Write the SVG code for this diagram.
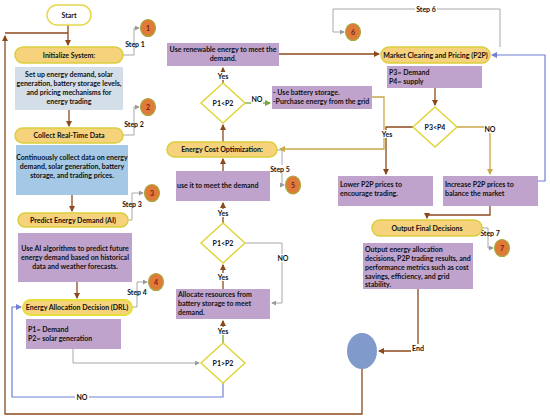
<svg xmlns="http://www.w3.org/2000/svg" width="550" height="420" viewBox="0 0 550 420">
<defs>
<marker id="ab" viewBox="0 0 6 6" refX="5" refY="3" markerWidth="5" markerHeight="5" orient="auto"><path d="M0,0 L6,3 L0,6 z" fill="#8c4a1c"/></marker>
<marker id="ag" viewBox="0 0 6 6" refX="5" refY="3" markerWidth="5" markerHeight="5" orient="auto"><path d="M0,0 L6,3 L0,6 z" fill="#9a9a9a"/></marker>
<marker id="al" viewBox="0 0 6 6" refX="5" refY="3" markerWidth="5" markerHeight="5" orient="auto"><path d="M0,0 L6,3 L0,6 z" fill="#6f80d6"/></marker>
<marker id="ao" viewBox="0 0 6 6" refX="5" refY="3" markerWidth="5" markerHeight="5" orient="auto"><path d="M0,0 L6,3 L0,6 z" fill="#c9a94a"/></marker>
<marker id="agr" viewBox="0 0 6 6" refX="5" refY="3" markerWidth="5" markerHeight="5" orient="auto"><path d="M0,0 L6,3 L0,6 z" fill="#78a840"/></marker>
</defs>
<style>
text{font-family:Lato,"DejaVu Sans Condensed",sans-serif;font-weight:bold;font-size:7px;fill:#111}
.c{text-anchor:middle}
.pill{fill:#f7d27c;stroke:#d9cf3c;stroke-width:1.5}
.purple{fill:#bfa3cc}
.grey{fill:#d3dee8}
.blue{fill:#a4c8e6}
.dia{fill:#fff;stroke:#e0d63a;stroke-width:1.5}
.num{fill:#e07a38;stroke:#a8aa40;stroke-width:1.2}
.numt{fill:#7a1a1a;font-size:7px;text-anchor:middle}
.lb{fill:none;stroke:#8c4a1c;stroke-width:1.3}
.lg{fill:none;stroke:#a8a8a8;stroke-width:1}
.ll{fill:none;stroke:#6f80d6;stroke-width:1.2}
.lo{fill:none;stroke:#c9a94a;stroke-width:1.3}
.lgr{fill:none;stroke:#78a840;stroke-width:1.3}
.bg{fill:#fff}
</style>
<rect width="550" height="420" fill="#fff"/>

<g id="connectors">
<path class="lb" d="M68,25 V45" marker-end="url(#ab)"/>
<path class="lb" d="M362,369 V414 H5 V36" marker-end="url(#ab)"/>
<path class="lb" d="M5,33 H68"/>
<path class="lb" d="M69,110 V126" marker-end="url(#ab)"/>
<path class="lb" d="M72,195 V211" marker-end="url(#ab)"/>
<path class="lb" d="M77,282 V298" marker-end="url(#ab)"/>
<path class="lg" d="M123,55 H134 V28 H139" marker-end="url(#ag)"/>
<path class="lg" d="M123,135 H134 V107 H139" marker-end="url(#ag)"/>
<path class="lg" d="M128,220 H132 V193 H143" marker-end="url(#ag)"/>
<path class="lg" d="M132,307 H137 V282 H147" marker-end="url(#ag)"/>
<path class="lg" d="M73,349 V363 H199" marker-end="url(#ag)"/>
<path class="ll" d="M223,383 V397 H12 V307 H21" marker-end="url(#al)"/>
<path class="lgr" d="M223,343 V330"/>
<path class="lb" d="M223,330 V321" marker-end="url(#ab)"/>
<path class="lb" d="M223,289 V265" marker-end="url(#ab)"/>
<path class="lg" d="M245,243 H282 V303 H272" marker-end="url(#ag)"/>
<path class="lb" d="M223,223 V203" marker-end="url(#ab)"/>
<path class="lb" d="M223,171 V159" marker-end="url(#ab)"/>
<path class="lb" d="M223,142 V125" marker-end="url(#ab)"/>
<path class="lg" d="M277,150 H282 V185 H284" marker-end="url(#ag)"/>
<path class="lb" d="M223,83 V68" marker-end="url(#ab)"/>
<path class="lgr" d="M245,103 H270" marker-end="url(#agr)"/>
<path class="lo" d="M372,97 H384 V149 H280" marker-end="url(#ao)"/>
<path class="lb" d="M279,54 H379" marker-end="url(#ab)"/>
<path class="lg" d="M500,47 V9 H333 V32 H344" marker-end="url(#ag)"/>
<path class="ll" d="M538,181 H545 V55 H492" marker-end="url(#al)"/>
<path class="lb" d="M435,88 V105" marker-end="url(#ab)"/>
<path class="lo" d="M457,127 H490 V174" marker-end="url(#ao)"/>
<path class="lb" d="M413,127 H386 V174" marker-end="url(#ab)"/>
<path class="lb" d="M490,206 V215 H427 V218" marker-end="url(#ab)"/>
<path class="lg" d="M482,228 H488 V248 H493" marker-end="url(#ag)"/>
<path class="lb" d="M418,289 V351 H379" marker-end="url(#ab)"/>
</g>

<g id="labels">
<text x="135" y="47" class="c">Step 1</text>
<text x="134" y="127" class="c">Step 2</text>
<text x="132" y="207" class="c">Step 3</text>
<text x="137" y="295" class="c">Step 4</text>
<rect class="bg" x="272" y="165" width="17" height="8"/>
<text x="280" y="172" class="c">Step 5</text>
<rect class="bg" x="415" y="5" width="22" height="8"/>
<text x="426" y="12" class="c">Step 6</text>
<text x="490" y="236" class="c">Step 7</text>
<rect class="bg" x="75" y="393" width="14" height="8"/>
<text x="82" y="400" class="c">NO</text>
<rect class="bg" x="216" y="327" width="14" height="8"/>
<text x="223" y="334" class="c">Yes</text>
<rect class="bg" x="216" y="273" width="14" height="8"/>
<text x="223" y="280" class="c">Yes</text>
<rect class="bg" x="276" y="254" width="13" height="8"/>
<text x="283" y="261" class="c">NO</text>
<rect class="bg" x="216" y="209" width="14" height="8"/>
<text x="223" y="216" class="c">Yes</text>
<rect class="bg" x="216" y="72" width="14" height="8"/>
<text x="223" y="79" class="c">Yes</text>
<rect class="bg" x="251" y="96" width="12" height="8"/>
<text x="257" y="102" class="c">NO</text>
<rect class="bg" x="380" y="130" width="14" height="8"/>
<text x="387" y="137" class="c">Yes</text>
<rect class="bg" x="484" y="125" width="12" height="8"/>
<text x="490" y="132" class="c">NO</text>
<rect class="bg" x="411" y="344" width="14" height="8"/>
<text x="418" y="351" class="c">End</text>
</g>

<g id="start"><rect x="47" y="5" width="44" height="20" rx="10" fill="#fff" stroke="#e6d84a" stroke-width="1.5"/><text x="69" y="18" class="c">Start</text></g>

<g id="init"><rect class="pill" x="15" y="47" width="108" height="16" rx="8"/><text x="69" y="57.7" class="c">Initialize System:</text></g>
<g id="init-desc"><rect class="grey" x="15" y="67" width="108" height="43"/>
<text x="69" y="77" class="c">Set up energy demand, solar</text>
<text x="69" y="86" class="c">generation, battery storage levels,</text>
<text x="69" y="95" class="c">and pricing mechanisms for</text>
<text x="69" y="104" class="c">energy trading</text></g>
<g id="step1"><ellipse class="num" cx="148" cy="28" rx="7.5" ry="8.5"/><text class="numt" x="148" y="30.5">1</text></g>

<g id="collect"><rect class="pill" x="15" y="128" width="108" height="15" rx="7.5"/><text x="69" y="138.2" class="c">Collect Real-Time Data</text></g>
<g id="collect-desc"><rect class="blue" x="16" y="145" width="112" height="50"/>
<text x="72" y="160" class="c">Continuously collect data on energy</text>
<text x="72" y="169" class="c">demand, solar generation, battery</text>
<text x="72" y="178" class="c">storage, and trading prices.</text></g>
<g id="step2"><ellipse class="num" cx="148" cy="107" rx="7.5" ry="8.5"/><text class="numt" x="148" y="109.5">2</text></g>

<g id="predict"><rect class="pill" x="18" y="213" width="110" height="14" rx="7"/><text x="73" y="222.7" class="c">Predict Energy Demand (AI)</text></g>
<g id="predict-desc"><rect class="purple" x="18" y="233" width="114" height="49"/>
<text x="75" y="251" class="c">Use AI algorithms to predict future</text>
<text x="75" y="260" class="c">energy demand based on historical</text>
<text x="75" y="269" class="c">data and weather forecasts.</text></g>
<g id="step3"><ellipse class="num" cx="152" cy="193" rx="7.5" ry="8.5"/><text class="numt" x="152" y="195.5">3</text></g>

<g id="alloc"><rect x="23" y="300" width="109" height="15" rx="7.5" fill="#f7d27c" stroke="#e6e03a" stroke-width="2"/><text x="77" y="310.2" class="c">Energy Allocation Decision (DRL)</text></g>
<g id="alloc-desc"><rect class="purple" x="26" y="319" width="95" height="30"/>
<text x="28" y="332">P1= Demand</text>
<text x="28" y="341">P2=  solar generation</text></g>
<g id="step4"><ellipse class="num" cx="156" cy="282" rx="7.5" ry="8.5"/><text class="numt" x="156" y="284.5">4</text></g>

<g id="d-p1gtp2"><polygon class="dia" points="223,343 245,363 223,383 201,363"/><text x="223" y="365.5" class="c">P1&gt;P2</text></g>
<g id="allocate-box"><rect class="purple" x="176" y="289" width="94" height="30"/>
<text x="178" y="297">Allocate resources from</text>
<text x="178" y="306">battery storage to meet</text>
<text x="178" y="315">demand.</text></g>
<g id="d-p1ltp2-b"><polygon class="dia" points="223,223 245,243 223,263 201,243"/><text x="223" y="245.5" class="c">P1&lt;P2</text></g>
<g id="useit"><rect class="purple" x="176" y="171" width="94" height="30"/><text x="177" y="188">use it to meet the demand</text></g>
<g id="cost"><rect class="pill" x="167" y="142" width="110" height="15" rx="7.5"/><text x="222" y="152.2" class="c">Energy Cost Optimization:</text></g>
<g id="step5"><ellipse class="num" cx="293" cy="185" rx="7.5" ry="9"/><text class="numt" x="293" y="187.5">5</text></g>
<g id="d-p1ltp2-a"><polygon class="dia" points="223,83 245,103 223,123 201,103"/><text x="223" y="105.5" class="c">P1&lt;P2</text></g>
<g id="battery"><rect class="purple" x="272" y="86" width="100" height="23"/>
<text x="273" y="95">- Use battery storage.</text>
<text x="273" y="104">-Purchase energy from the grid</text></g>
<g id="renew"><rect class="purple" x="167" y="43" width="112" height="23"/>
<text x="223" y="52" class="c">Use renewable energy to meet the</text>
<text x="223" y="61" class="c">demand.</text></g>
<g id="step6"><ellipse class="num" cx="353" cy="32" rx="7.5" ry="8.5"/><text class="numt" x="353" y="34.5">6</text></g>

<g id="market"><rect class="pill" x="381" y="47" width="109" height="16" rx="8"/><text x="435.5" y="57.7" class="c">Market Clearing and Pricing (P2P)</text></g>
<g id="market-desc"><rect class="purple" x="387" y="66" width="95" height="22"/>
<text x="389" y="75">P3= Demand</text>
<text x="389" y="84">P4=  supply</text></g>
<g id="d-p3p4"><polygon class="dia" points="435,107 457,127 435,147 413,127"/><text x="435" y="129.5" class="c">P3&lt;P4</text></g>
<g id="lower"><rect class="purple" x="338" y="176" width="95" height="30"/>
<text x="340" y="187">Lower P2P prices to</text>
<text x="340" y="196">encourage trading.</text></g>
<g id="increase"><rect class="purple" x="443" y="176" width="95" height="30"/>
<text x="445" y="187">Increase P2P prices to</text>
<text x="445" y="196">balance the market</text></g>
<g id="output"><rect class="pill" x="372" y="220" width="110" height="16" rx="8"/><text x="427" y="230.7" class="c">Output Final Decisions</text></g>
<g id="step7"><ellipse class="num" cx="502" cy="248" rx="7.5" ry="8.5"/><text class="numt" x="502" y="250.5">7</text></g>
<g id="output-desc"><rect class="purple" x="363" y="243" width="110" height="46"/>
<text x="365" y="252">Output energy allocation</text>
<text x="365" y="261">decisions, P2P trading results, and</text>
<text x="365" y="270">performance metrics such as cost</text>
<text x="365" y="279">savings, efficiency, and grid</text>
<text x="365" y="287">stability.</text></g>
<g id="end"><ellipse cx="362" cy="351" rx="15" ry="18" fill="#7f9acb"/></g>
</svg>
